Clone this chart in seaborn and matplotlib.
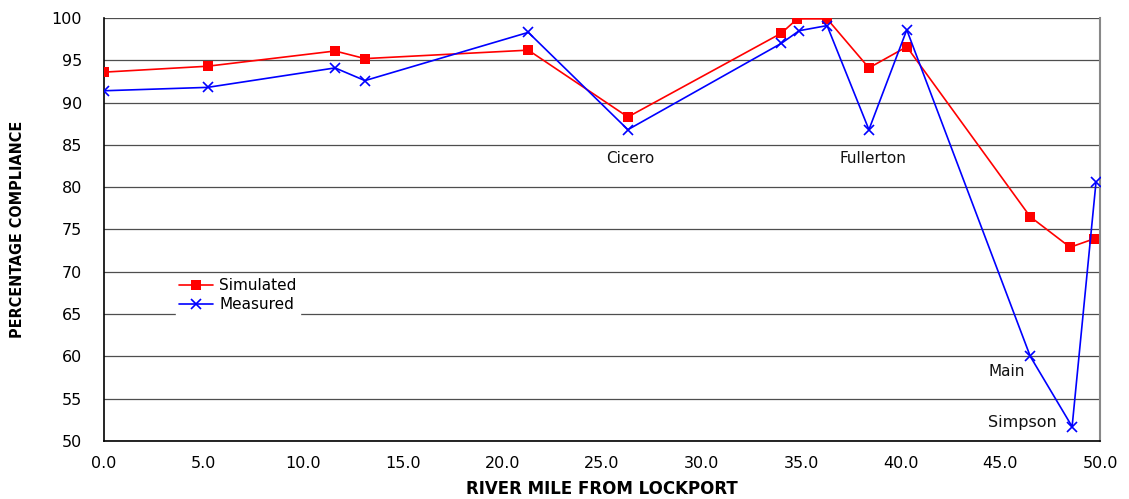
import matplotlib
matplotlib.use("Agg")
import matplotlib.pyplot as plt
import seaborn as sns
import pandas as pd

sim_mile = [0.0, 5.2, 11.6, 13.1, 21.3, 26.3, 34.0, 34.8, 36.3, 38.4, 40.3, 46.5, 48.5, 49.7]
sim_pct = [93.6, 94.3, 96.1, 95.2, 96.2, 88.3, 98.2, 99.9, 99.9, 94.1, 96.6, 76.5, 72.9, 73.9]
meas_mile = [0.0, 5.2, 11.6, 13.1, 21.3, 26.3, 34.0, 34.9, 36.3, 38.4, 40.3, 46.5, 48.6, 49.8]
meas_pct = [91.4, 91.8, 94.1, 92.6, 98.3, 86.8, 97.0, 98.5, 99.1, 86.8, 98.6, 60.0, 51.7, 80.6]

labels = ["Cicero", "Fullerton", "Main", "Simpson"]
label_x = [26.4, 38.6, 44.4, 44.4]
label_y = [83.4, 83.4, 58.2, 52.2]

x_ticks = [0, 5, 10, 15, 20, 25, 30, 35, 40, 45, 50]
y_ticks = [50, 55, 60, 65, 70, 75, 80, 85, 90, 95, 100]

sns.set_style("white")
plt.rcParams['font.family'] = ['DejaVu Sans']
plt.rcParams['text.color'] = 'black'
plt.rcParams['xtick.color'] = 'black'
plt.rcParams['ytick.color'] = 'black'
plt.rcParams['axes.labelcolor'] = 'black'

fig = plt.figure(figsize=(11.29, 4.99), dpi=100)
ax = fig.add_axes([104/1129, 1 - 441/499, 996/1129, 423/499])

df_sim = pd.DataFrame({"mile": sim_mile, "pct": sim_pct})
df_meas = pd.DataFrame({"mile": meas_mile, "pct": meas_pct})

sns.lineplot(data=df_sim, x="mile", y="pct", ax=ax, color="#ff0000", lw=1.2,
             marker="s", markersize=7, markeredgewidth=0, label="Simulated", zorder=3)
sns.lineplot(data=df_meas, x="mile", y="pct", ax=ax, color="#0000ff", lw=1.2,
             marker="x", markersize=7, markeredgewidth=1.2, markeredgecolor="#0000ff",
             label="Measured", zorder=4)

for t, lx, ly in zip(labels, label_x, label_y):
    ax.text(lx, ly, t, fontsize=11.5 if t == "Simpson" else 11,
            ha="center" if t in ("Cicero", "Fullerton") else "left",
            va="center", color="#111111")

ax.set_xlim(0, 50)
ax.set_ylim(50, 100)
ax.set_xticks(x_ticks)
ax.set_xticklabels([f"{v:.1f}" for v in x_ticks], fontsize=11.5)
ax.set_yticks(y_ticks)
ax.set_yticklabels([str(v) for v in y_ticks], fontsize=11.5)
ax.yaxis.grid(True, color="#222222", lw=0.9, alpha=0.8)
ax.xaxis.grid(False)
ax.tick_params(axis="x", direction="in", length=5, width=0.8, color="black", pad=11)
ax.tick_params(axis="y", length=0, pad=16)
for s in ["left", "bottom"]:
    ax.spines[s].set_color("black")
    ax.spines[s].set_linewidth(1.2)
ax.spines["right"].set_color("#888888")
ax.spines["right"].set_linewidth(1.5)
ax.spines["top"].set_visible(False)

ax.set_xlabel("RIVER MILE FROM LOCKPORT", fontsize=12, fontweight="bold", labelpad=6)
ax.set_ylabel("PERCENTAGE COMPLIANCE", fontsize=11.5, fontweight="bold",
              fontstretch="condensed")
ax.yaxis.set_label_coords(-0.079, 0.5)

leg = ax.legend(loc="upper left", bbox_to_anchor=(0.065, 0.41), frameon=True, fontsize=11,
                handlelength=2.2, borderpad=0.2, labelspacing=0.25, handletextpad=0.4)
leg.get_frame().set_edgecolor("white")
leg.get_frame().set_facecolor("white")
leg.get_frame().set_alpha(1)
leg.get_frame().set_boxstyle("square", pad=0)

fig.savefig("out.png", dpi=100)
